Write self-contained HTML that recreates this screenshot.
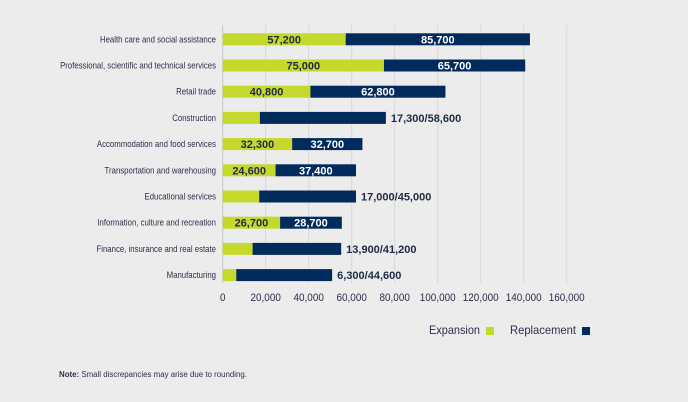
<!DOCTYPE html>
<html><head><meta charset="utf-8"><style>
body{margin:0;background:#ececec;}
svg{display:block;font-family:"Liberation Sans",sans-serif;}
</style></head><body>
<svg id="c" width="688" height="402">
<rect width="688" height="402" fill="#ececec"/>
<g id="grid"></g><g id="bars"></g><g id="labels"></g>
<g>
<text x="480" y="334" font-size="12" fill="#2d2d4d" text-anchor="end" textLength="51" lengthAdjust="spacingAndGlyphs">Expansion</text>
<rect x="486" y="327" width="8" height="8" fill="#c5d92d"/>
<text x="576" y="334" font-size="12" fill="#2d2d4d" text-anchor="end" textLength="66" lengthAdjust="spacingAndGlyphs">Replacement</text>
<rect x="582" y="327" width="8" height="8" fill="#002b5c"/>
</g>
<text x="59" y="377" font-size="8" fill="#2d2d4d" textLength="188" lengthAdjust="spacingAndGlyphs"><tspan font-weight="bold">Note:</tspan> Small discrepancies may arise due to rounding.</text>
</svg>
<script>
const categories=["Health care and social assistance","Professional, scientific and technical services","Retail trade","Construction","Accommodation and food services","Transportation and warehousing","Educational services","Information, culture and recreation","Finance, insurance and real estate","Manufacturing"];
const expansion=[57200,75000,40800,17300,32300,24600,17000,26700,13900,6300];
const replacement=[85700,65700,62800,58600,32700,37400,45000,28700,41200,44600];
const insideLabels=[true,true,true,false,true,true,false,true,false,false];
const ticks=[0,20000,40000,60000,80000,100000,120000,140000,160000];
const NS="http://www.w3.org/2000/svg";
const x0=222.7,xs=344/160000;
function X(v){return x0+v*xs;}
function Y(i){return 33.3+i*26.2;}
function mk(tag,attrs,parent,txt){const e=document.createElementNS(NS,tag);for(const k in attrs)e.setAttribute(k,attrs[k]);if(txt!==undefined)e.textContent=txt;document.getElementById(parent).appendChild(e);return e;}
function squeeze(e,r){const w=e.getComputedTextLength();e.setAttribute('textLength',w*r);e.setAttribute('lengthAdjust','spacingAndGlyphs');}
function fmt(v){return v.toLocaleString('en-US');}
ticks.forEach((t,i)=>{
 const l=mk('line',{x1:X(t),x2:X(t),y1:25,y2:283,stroke:t===0?'#c8c8c8':'#d8d8d8','stroke-width':1},'grid');
 
 
 const tx=mk('text',{x:X(t),y:301,'font-size':11,fill:'#2d2d4d','text-anchor':'middle'},'labels',fmt(t));
 
 
 squeeze(tx,0.9);
});
categories.forEach((c,i)=>{
 const y=Y(i),h=12;
 const cl=mk('text',{x:216,y:y+9,'font-size':9.5,fill:'#2d2d4d','text-anchor':'end'},'labels',c);
 
 
 squeeze(cl,0.82);
 const e=mk('rect',{x:X(0),y:y,width:X(expansion[i])-X(0),height:h,fill:'#c5d92d'},'bars');
 
 
 const r=mk('rect',{x:X(expansion[i]),y:y,width:X(expansion[i]+replacement[i])-X(expansion[i]),height:h,fill:'#002b5c'},'bars');
 
 
 if(insideLabels[i]){
  const a=mk('text',{x:(X(0)+X(expansion[i]))/2,y:y+10,'font-size':11,'font-weight':'bold',fill:'#1f2a44','text-anchor':'middle'},'labels',fmt(expansion[i]));
  
  
  const b=mk('text',{x:(X(expansion[i])+X(expansion[i]+replacement[i]))/2,y:y+10,'font-size':11,'font-weight':'bold',fill:'#ffffff','text-anchor':'middle'},'labels',fmt(replacement[i]));
  
  
 } else {
  const o=mk('text',{x:X(expansion[i]+replacement[i])+5,y:y+10,'font-size':11,'font-weight':'bold',fill:'#1f2a44'},'labels',fmt(expansion[i])+'/'+fmt(replacement[i]));
  
  
 }
});
</script>
</body></html>
